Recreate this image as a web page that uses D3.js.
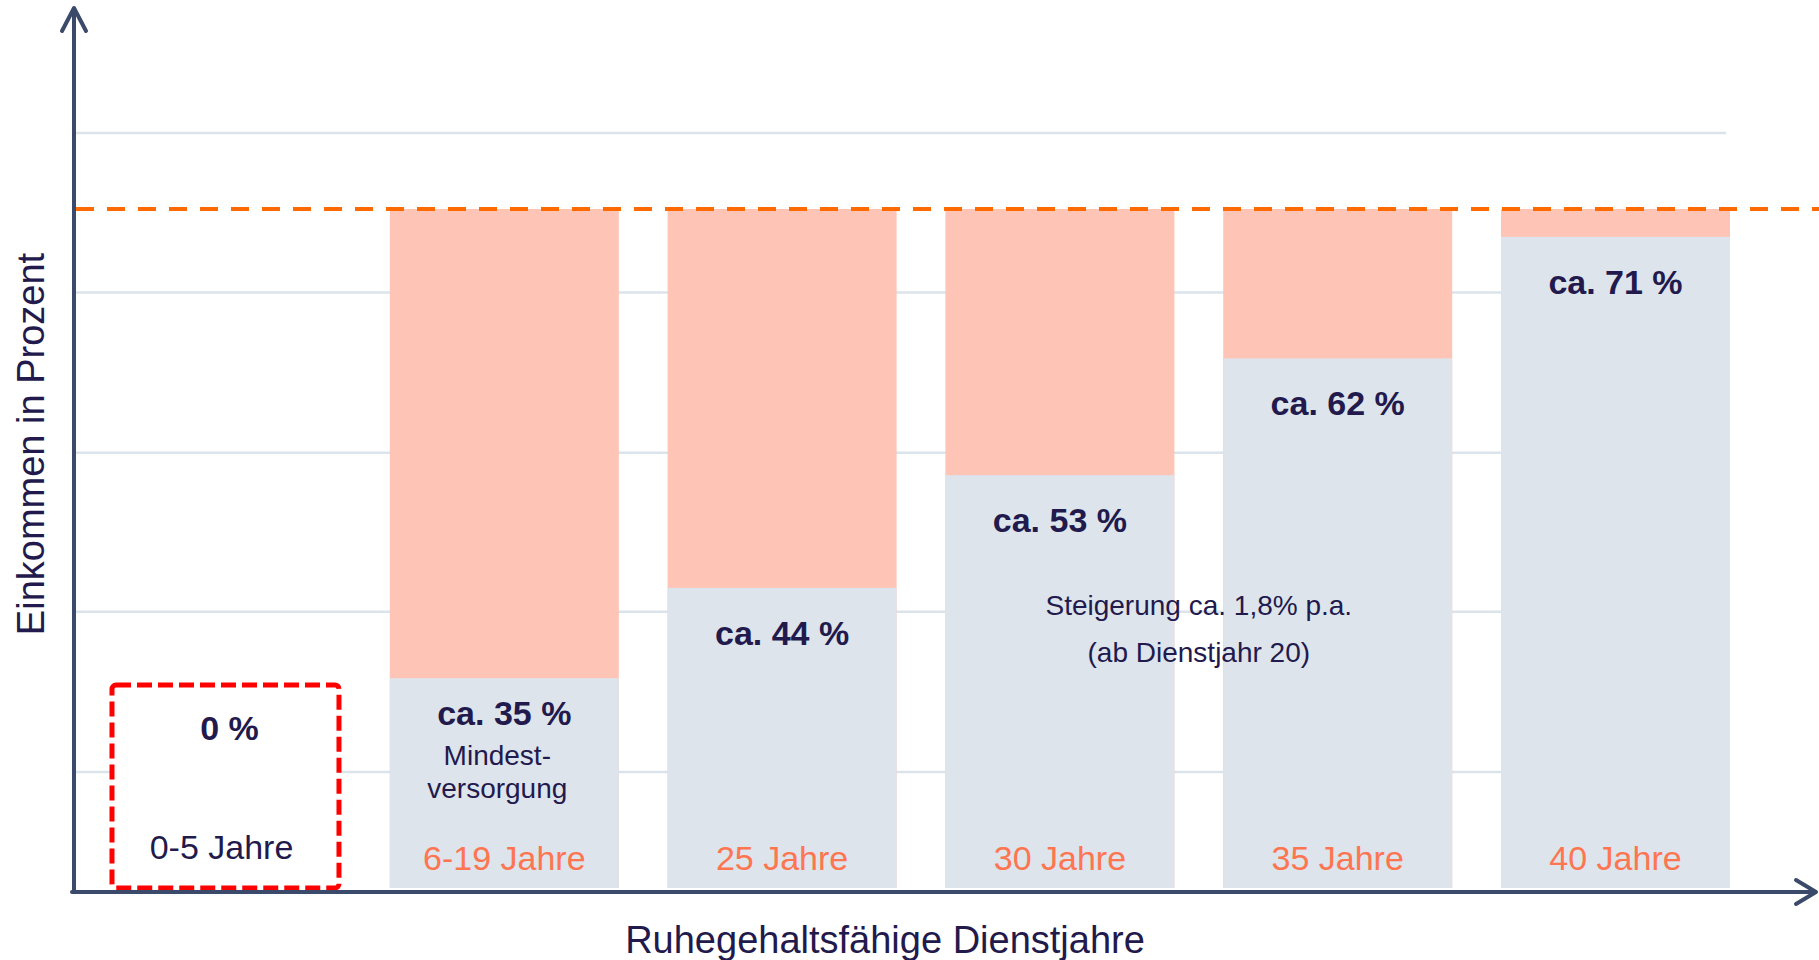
<!DOCTYPE html>
<html>
<head>
<meta charset="utf-8">
<script src="https://cdn.jsdelivr.net/npm/d3@7"></script>
<style>
  body { margin: 0; background: #fff; }
  text { font-family: "Liberation Sans", Arial, sans-serif; }
</style>
</head>
<body>
<div id="chart"></div>
<script>
// data
const categories = ["0-5 Jahre", "6-19 Jahre", "25 Jahre", "30 Jahre", "35 Jahre", "40 Jahre"]
const pensionPct = [0, 35, 44, 53, 62, 71]              // labelled share of income
const barHeight = [0, 30.9, 44.2, 60.8, 78.0, 95.9]      // drawn height (schematic), 100 = last income
const referenceLevel = 100
const gridValues = [17.1, 40.7, 64.1, 87.7, 111.2]
const minNote = ["Mindest-", "versorgung"]
const growthNote = ["Steigerung ca. 1,8% p.a.", "(ab Dienstjahr 20)"]

const W = 1819, H = 960
const axisColor = "#3b4a6b"
const textColor = "#221a4c"
const orangeText = "#ff7550"

let svg = d3.select("#chart").append("svg")
    .attr("width", W)
    .attr("height", H)

let x = d3.scaleBand()
    .domain(categories)
    .range([87.6, 1754.4])
    .paddingInner(0.1757)
    .paddingOuter(0.0878)

let y = d3.scaleLinear()
    .domain([0, 100])
    .range([888, 209])

// gridlines
svg.append("g").selectAll("line")
    .data(gridValues)
    .join("line")
    .attr("x1", 74).attr("x2", 1726)
    .attr("y1", d => y(d)).attr("y2", d => y(d))
    .attr("stroke", "#dbe3eb")
    .attr("stroke-width", 2.5)

let bars = categories.map((c, i) => ({ cat: c, pct: pensionPct[i], h: barHeight[i] })).slice(1)

// orange = gap to last income
svg.append("g").selectAll("rect")
    .data(bars)
    .join("rect")
    .attr("x", d => x(d.cat))
    .attr("width", x.bandwidth())
    .attr("y", y(referenceLevel))
    .attr("height", y(0) - y(referenceLevel))
    .attr("fill", "#fec4b6")

// grey = pension
svg.append("g").selectAll("rect")
    .data(bars)
    .join("rect")
    .attr("x", d => x(d.cat))
    .attr("width", x.bandwidth())
    .attr("y", d => y(d.h))
    .attr("height", d => y(0) - y(d.h))
    .attr("fill", "#dde4ec")

// red dashed box for 0-5 years
svg.append("rect")
    .attr("x", x(categories[0]))
    .attr("y", y(29.9))
    .attr("width", x.bandwidth() - 2)
    .attr("height", y(0) - y(29.9))
    .attr("rx", 4)
    .attr("fill", "#fff")
    .attr("stroke", "#ff0000")
    .attr("stroke-width", 5)
    .attr("stroke-dasharray", "15,6")

// reference line (100 %)
svg.append("line")
    .attr("x1", 76).attr("x2", W)
    .attr("y1", y(referenceLevel)).attr("y2", y(referenceLevel))
    .attr("stroke", "#ff6a00")
    .attr("stroke-width", 4)
    .attr("stroke-dasharray", "18,13")

// percentage labels
svg.append("g").selectAll("text")
    .data(bars)
    .join("text")
    .attr("x", d => x(d.cat) + x.bandwidth() / 2)
    .attr("y", (d, i) => y(d.h) + (i == 0 ? 47 : 57))
    .attr("text-anchor", "middle")
    .attr("font-size", 34)
    .attr("font-weight", "bold")
    .attr("fill", textColor)
    .text(d => "ca. " + d.pct + " %")

svg.append("text")
    .attr("x", x(categories[0]) + x.bandwidth() / 2 + 3)
    .attr("y", 740)
    .attr("text-anchor", "middle")
    .attr("font-size", 34)
    .attr("font-weight", "bold")
    .attr("fill", textColor)
    .text(pensionPct[0] + " %")

// year labels
svg.append("g").selectAll("text")
    .data(categories)
    .join("text")
    .attr("x", (d, i) => x(d) + x.bandwidth() / 2 - (i == 0 ? 5 : 0))
    .attr("y", (d, i) => i == 0 ? 859 : 870)
    .attr("text-anchor", "middle")
    .attr("font-size", 34)
    .attr("fill", (d, i) => i == 0 ? textColor : orangeText)
    .text(d => d)

// notes
svg.append("g").selectAll("text")
    .data(minNote)
    .join("text")
    .attr("x", x(categories[1]) + x.bandwidth() / 2 - 7)
    .attr("y", (d, i) => 765 + i * 33)
    .attr("text-anchor", "middle")
    .attr("font-size", 28)
    .attr("fill", textColor)
    .text(d => d)

let gapMid = x(categories[3]) + x.bandwidth() + (x.step() - x.bandwidth()) / 2
svg.append("g").selectAll("text")
    .data(growthNote)
    .join("text")
    .attr("x", gapMid)
    .attr("y", (d, i) => 615 + i * 47)
    .attr("text-anchor", "middle")
    .attr("font-size", 28)
    .attr("fill", textColor)
    .text(d => d)

// axes with arrow heads
let axes = svg.append("g")
    .attr("stroke", axisColor)
    .attr("stroke-width", 4)
    .attr("stroke-linecap", "round")
    .attr("stroke-linejoin", "round")
    .attr("fill", "none")
axes.append("line").attr("x1", 74).attr("x2", 74).attr("y1", 892).attr("y2", 9)
axes.append("path").attr("d", "M62,31 L74,8 L86,31")
axes.append("line").attr("x1", 72).attr("x2", 1815).attr("y1", 892).attr("y2", 892)
axes.append("path").attr("d", "M1796,880 L1816,892 L1796,904")

// axis titles
svg.append("text")
    .attr("x", 885)
    .attr("y", 953)
    .attr("text-anchor", "middle")
    .attr("font-size", 38)
    .attr("fill", textColor)
    .text("Ruhegehaltsfähige Dienstjahre")

svg.append("text")
    .attr("transform", "translate(44,444) rotate(-90)")
    .attr("text-anchor", "middle")
    .attr("font-size", 38)
    .attr("fill", textColor)
    .text("Einkommen in Prozent")
</script>
</body>
</html>
